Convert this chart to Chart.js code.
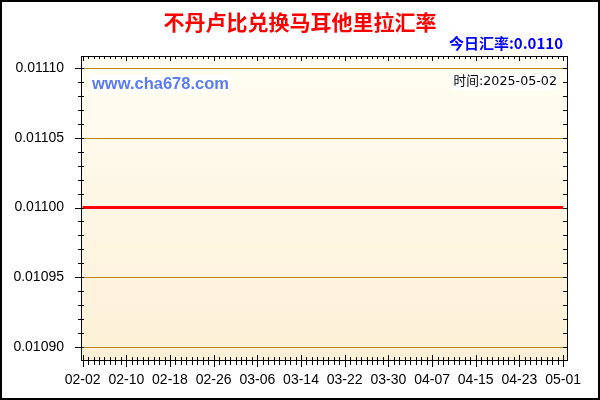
<!DOCTYPE html>
<html>
<head>
<meta charset="utf-8">
<script src="https://cdn.jsdelivr.net/npm/chart.js@4"></script>
<style>
  html, body { margin: 0; padding: 0; background: #fff; }
  #wrap { width: 600px; height: 400px; }
</style>
</head>
<body>
<div id="wrap"><canvas id="rateChart" width="600" height="400"></canvas></div>
<script>
// chart data
const titleText = '不丹卢比兑换马耳他里拉汇率';
const todayText = '今日汇率:0.0110';
const timeText = '时间:2025-05-02';
const siteText = 'www.cha678.com';

// x tick labels, one every 8 days (index 0 .. 88)
const xTickLabels = ['02-02', '02-10', '02-18', '02-26', '03-06', '03-14',
  '03-22', '03-30', '04-07', '04-15', '04-23', '05-01'];
const yTickValues = [0.01090, 0.01095, 0.01100, 0.01105, 0.01110];

// daily rate, 02-02 .. 05-01
const rates = [
  0.0110, 0.0110, 0.0110, 0.0110, 0.0110, 0.0110, 0.0110, 0.0110, 0.0110, 0.0110,
  0.0110, 0.0110, 0.0110, 0.0110, 0.0110, 0.0110, 0.0110, 0.0110, 0.0110, 0.0110,
  0.0110, 0.0110, 0.0110, 0.0110, 0.0110, 0.0110, 0.0110, 0.0110, 0.0110, 0.0110,
  0.0110, 0.0110, 0.0110, 0.0110, 0.0110, 0.0110, 0.0110, 0.0110, 0.0110, 0.0110,
  0.0110, 0.0110, 0.0110, 0.0110, 0.0110, 0.0110, 0.0110, 0.0110, 0.0110, 0.0110,
  0.0110, 0.0110, 0.0110, 0.0110, 0.0110, 0.0110, 0.0110, 0.0110, 0.0110, 0.0110,
  0.0110, 0.0110, 0.0110, 0.0110, 0.0110, 0.0110, 0.0110, 0.0110, 0.0110, 0.0110,
  0.0110, 0.0110, 0.0110, 0.0110, 0.0110, 0.0110, 0.0110, 0.0110, 0.0110, 0.0110,
  0.0110, 0.0110, 0.0110, 0.0110, 0.0110, 0.0110, 0.0110, 0.0110, 0.0110
];

const points = rates.map((v, i) => ({ x: i, y: v }));

// background gradient, golden grid lines
const backPlugin = {
  id: 'back',
  beforeDraw(chart) {
    const ctx = chart.ctx;
    const a = chart.chartArea;
    const ys = chart.scales.y;
    ctx.save();
    ctx.fillStyle = '#fff';
    ctx.fillRect(0, 0, chart.width, chart.height);
    const g = ctx.createLinearGradient(0, a.top, 0, a.bottom);
    g.addColorStop(0, '#fffdf3');
    g.addColorStop(1, '#fdf0d6');
    ctx.fillStyle = g;
    ctx.fillRect(a.left, a.top, a.right - a.left, a.bottom - a.top);

    ctx.strokeStyle = '#b8860b';
    ctx.lineWidth = 1;
    ctx.beginPath();
    yTickValues.forEach(v => {
      const py = Math.round(ys.getPixelForValue(v)) + 0.5;
      ctx.moveTo(a.left, py);
      ctx.lineTo(a.right, py);
    });
    ctx.stroke();
    ctx.restore();
  }
};

// axis box with small ticks, texts, frame
const decorPlugin = {
  id: 'decor',
  afterDraw(chart) {
    const ctx = chart.ctx;
    const a = chart.chartArea;
    const xs = chart.scales.x;
    const ys = chart.scales.y;
    ctx.save();

    // axis box
    ctx.strokeStyle = '#000';
    ctx.lineWidth = 1;
    ctx.strokeRect(a.left + 0.5, a.top + 0.5, a.right - a.left - 1, a.bottom - a.top - 1);

    // x ticks, every day, longer every 8 days
    ctx.beginPath();
    for (let i = 0; i < rates.length; i++) {
      const px = Math.round(xs.getPixelForValue(i)) + 0.5;
      const major = i % 8 === 0;
      ctx.moveTo(px, a.bottom - (major ? 6 : 4));
      ctx.lineTo(px, a.bottom + (major ? 6 : 4));
      ctx.moveTo(px, a.top);
      ctx.lineTo(px, a.top + (major ? 5 : 3));
    }
    // y ticks, every 0.00001
    for (let k = 0; k <= 20; k++) {
      const v = 0.01090 + k * 0.00001;
      const py = Math.round(ys.getPixelForValue(v)) + 0.5;
      const major = k % 5 === 0;
      ctx.moveTo(a.left - (major ? 6 : 3), py);
      ctx.lineTo(a.left + 3, py);
      ctx.moveTo(a.right, py);
      ctx.lineTo(a.right - 5, py);
    }
    ctx.stroke();

    // title
    ctx.textAlign = 'center';
    ctx.textBaseline = 'middle';
    ctx.fillStyle = '#ff0000';
    ctx.font = 'bold 21px "Noto Sans CJK SC"';
    ctx.fillText(titleText, 300, 22);

    // today's rate
    ctx.textAlign = 'right';
    ctx.fillStyle = '#0000ff';
    ctx.font = 'bold 15px "Noto Sans CJK SC"';
    ctx.fillText(todayText, 563, 43);

    // date stamp
    ctx.font = '12.7px "DejaVu Sans", "Noto Sans CJK SC"';
    const tw = ctx.measureText(timeText).width;
    ctx.fillStyle = '#fff';
    ctx.fillRect(557 - tw - 2, 74, tw + 4, 16);
    ctx.fillStyle = '#000';
    ctx.fillText(timeText, 557, 82);

    // site watermark
    ctx.textAlign = 'left';
    ctx.font = 'bold 16.5px "Liberation Sans", Arial';
    const sw = ctx.measureText(siteText).width;
    ctx.fillStyle = '#fff';
    ctx.fillRect(90, 75, sw + 4, 18);
    ctx.fillStyle = '#5a7cf0';
    ctx.fillText(siteText, 92, 84);

    // outer frame
    ctx.strokeStyle = '#000';
    ctx.lineWidth = 2;
    ctx.strokeRect(1, 1, chart.width - 2, chart.height - 2);
    ctx.restore();
  }
};

new Chart(document.getElementById('rateChart'), {
  type: 'line',
  data: {
    datasets: [{
      data: points,
      borderColor: '#ff0000',
      borderWidth: 3,
      pointRadius: 0,
      tension: 0,
      fill: false
    }]
  },
  options: {
    responsive: false,
    animation: false,
    layout: { padding: { left: 0, top: 56, right: 32, bottom: 0 } },
    plugins: {
      legend: { display: false },
      tooltip: { enabled: false }
    },
    scales: {
      x: {
        type: 'linear',
        min: -0.3,
        max: 88.9,
        border: { display: false },
        grid: { display: false, drawTicks: false },
        afterBuildTicks(scale) {
          scale.ticks = xTickLabels.map((_, i) => ({ value: i * 8 }));
        },
        afterFit(scale) { scale.height = 39; },
        ticks: {
          autoSkip: false,
          maxRotation: 0,
          padding: 11,
          color: '#000',
          font: { family: '"Liberation Sans", Arial', size: 14 },
          callback: (v) => xTickLabels[Math.round(v / 8)]
        }
      },
      y: {
        min: 0.010890,
        max: 0.0111086,
        border: { display: false },
        grid: { display: false, drawTicks: false },
        afterBuildTicks(scale) {
          scale.ticks = yTickValues.map(v => ({ value: v }));
        },
        afterFit(scale) { scale.width = 81; },
        ticks: {
          padding: 17,
          color: '#000',
          font: { family: '"Liberation Sans", Arial', size: 14 },
          callback: (v) => v.toFixed(5)
        }
      }
    }
  },
  plugins: [backPlugin, decorPlugin]
});
</script>
</body>
</html>
